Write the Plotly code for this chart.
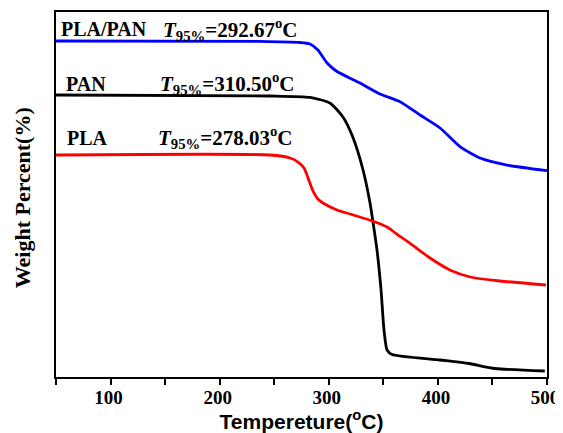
import plotly.graph_objects as go

# Temperature (°C) and relative weight (arbitrary offset scale)
blend_T = [50, 237, 273.6, 282.8, 290, 298.4, 307.5, 328.6, 347, 365.3, 383.6, 402, 420.3, 438.6, 463.3, 500]
blend_W = [92.05, 91.97, 91.64, 91.23, 89.59, 86.03, 83.70, 80.55, 77.53, 75.42, 71.78, 68.22, 63.10, 60.0, 58.08, 56.52]

pan_T = [50, 246, 282.8, 301, 313, 322, 331.4, 337.8, 340.5, 344.2, 347.9, 350.6, 353.4, 358, 402, 428.5, 452.3, 498]
pan_W = [77.26, 76.99, 76.58, 75.07, 71.23, 65.75, 56.71, 47.67, 42.47, 34.79, 23.84, 12.88, 7.40, 6.16, 4.66, 3.70, 2.33, 1.64]

pla_T = [50, 246, 264.5, 271.8, 277.3, 281, 285.5, 290, 294.7, 307.5, 319.5, 331.4, 342.4, 353.4, 363.5, 374.5, 392.8, 411, 429.5, 457, 499]
pla_W = [60.82, 60.82, 60.0, 58.90, 57.26, 54.52, 50.96, 48.77, 47.67, 45.75, 44.66, 43.56, 42.47, 41.10, 38.90, 36.63, 32.60, 29.32, 27.40, 26.30, 25.21]

names = ["PLA/PAN", "PAN", "PLA"]
t95 = ["292.67", "310.50", "278.03"]
x_ticks = [100, 200, 300, 400, 500]
x_ticktext = ["100", "200", "300", "400", "500"]
x_minor = [50, 150, 250, 350, 450]

fig = go.Figure()
for T, W, c in [(blend_T, blend_W, "#0000FF"), (pan_T, pan_W, "#000000"), (pla_T, pla_W, "#FF0000")]:
    fig.add_trace(go.Scatter(x=T, y=W, mode="lines",
                             line=dict(color=c, width=2.8, shape="spline", smoothing=0.6),
                             showlegend=False, hoverinfo="skip"))

serif = "Liberation Serif"
label_y = [0.953, 0.803, 0.655]
name_x = [0.006, 0.016, 0.018]
t_x = [0.214, 0.208, 0.204]
for n, t, yy, nx, tx in zip(names, t95, label_y, name_x, t_x):
    fig.add_annotation(xref="paper", yref="paper", x=nx, y=yy, xanchor="left", yanchor="middle",
                       text="<b>%s</b>" % n, showarrow=False,
                       font=dict(family=serif, size=20, color="black"))
    fig.add_annotation(xref="paper", yref="paper", x=tx, y=yy, xanchor="left", yanchor="middle",
                       text="<b><i>T</i><sub>95%%</sub>=%s<sup>o</sup>C</b>" % t, showarrow=False,
                       font=dict(family=serif, size=21, color="black"))

fig.add_annotation(xref="paper", yref="paper", x=-0.069, y=0.49, xanchor="center", yanchor="middle",
                   text="<b>Weight Percent(%)</b>", textangle=-90, showarrow=False,
                   font=dict(family=serif, size=22, color="black"))

# the page body has an 8px margin, so the figure is sized and margined to fit the 563x433 window
fig.update_layout(
    width=555, height=425,
    margin=dict(l=48, r=16, t=4, b=56),
    paper_bgcolor="white", plot_bgcolor="white",
    xaxis=dict(range=[50, 500], tickvals=x_ticks, ticktext=x_ticktext, automargin=False,
               ticks="outside", ticklen=6, tickwidth=1.5, tickcolor="black",
               minor=dict(tickvals=x_minor, ticks="outside", ticklen=6, tickwidth=1.5, tickcolor="black"),
               showline=True, linecolor="black", linewidth=1.5, mirror=True,
               showgrid=False, zeroline=False, ticklabelstandoff=-4, ticklabelshift=-2,
               ticklabeloverflow="allow",
               tickfont=dict(family=serif, size=19, color="black", weight="bold"),
               title=dict(text="<b>Tempereture(<sup>o</sup>C)</b>", standoff=3,
                          font=dict(family="Liberation Sans", size=21, color="black"))),
    yaxis=dict(range=[0, 100], showticklabels=False, ticks="", automargin=False,
               showline=True, linecolor="black", linewidth=1.5, mirror=True,
               showgrid=False, zeroline=False),
)
fig.write_html("out.html")
